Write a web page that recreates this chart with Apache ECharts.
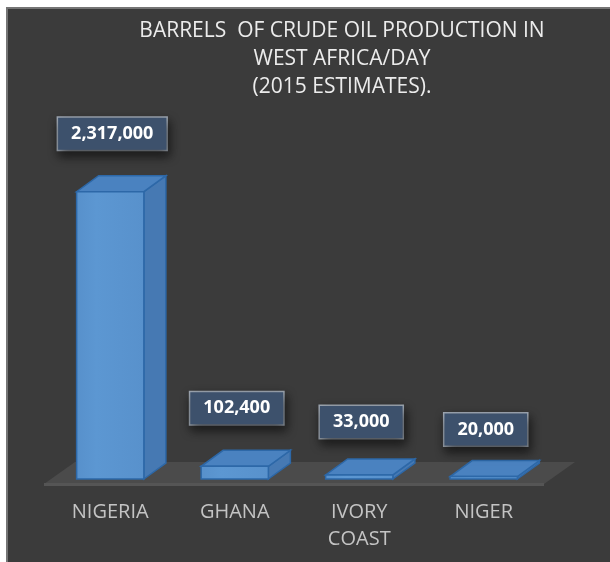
<!DOCTYPE html>
<html>
<head>
<meta charset="utf-8">
<script src="https://cdn.jsdelivr.net/npm/echarts@6/dist/echarts.min.js"></script>
<style>
  html, body { margin: 0; padding: 0; background: #fff; }
  #chart { width: 610px; height: 562px; }
</style>
</head>
<body>
<div id="chart"></div>
<script>
// crude oil output, barrels per day (2015 estimates)
const countries = ['NIGERIA', 'GHANA', 'IVORY\nCOAST', 'NIGER'];
const barrelsPerDay = [2317000, 102400, 33000, 20000];

// how far each value box floats above its bar (perspective in the original)
const labelGap = [42, 42, 37, 31];

const fmt = v => Number(v).toLocaleString('en-US');

// excel-ish 3d box: front, side and top faces
function renderBar(params, api) {
  const base = api.coord([api.value(0), 0]);
  const top = api.coord([api.value(0), api.value(1)]);
  const bw = api.size([1, 0])[0] * 0.54;
  const x0 = base[0] - bw / 2, x1 = base[0] + bw / 2;
  const yb = base[1], yt = Math.min(top[1], yb - 2);
  const dx = 22, dy = -16;
  const edge = '#2d68a8';
  return {
    type: 'group',
    children: [
      {
        type: 'polygon',
        shape: { points: [[x1, yb], [x1 + dx, yb + dy], [x1 + dx, yt + dy], [x1, yt]] },
        style: { fill: '#4679b3', stroke: edge, lineWidth: 1.5 }
      },
      {
        type: 'polygon',
        shape: { points: [[x0, yt], [x1, yt], [x1 + dx, yt + dy], [x0 + dx, yt + dy]] },
        style: { fill: '#4a82c0', stroke: edge, lineWidth: 1.5 }
      },
      {
        type: 'rect',
        shape: { x: x0, y: yt, width: bw, height: yb - yt },
        style: {
          fill: new echarts.graphic.LinearGradient(0, 0, 1, 0, [
            { offset: 0, color: '#5790cb' },
            { offset: 0.3, color: '#5c97d2' },
            { offset: 1, color: '#5891cc' }
          ]),
          stroke: edge, lineWidth: 1.5
        }
      },
      {
        type: 'text',
        x: base[0] + 2,
        y: yt - labelGap[params.dataIndex],
        z2: 10,
        style: {
          text: fmt(api.value(1)),
          fill: '#ffffff',
          font: 'bold 18px "Open Sans"',
          align: 'center',
          verticalAlign: 'bottom',
          backgroundColor: '#3d516c',
          borderColor: '#9ea7b2',
          borderWidth: 1.5,
          padding: [7, 13],
          shadowBlur: 10,
          shadowColor: 'rgba(0,0,0,0.55)',
          shadowOffsetX: 2,
          shadowOffsetY: 5
        }
      }
    ]
  };
}

// floor slab under the bars
function renderFloor(params, api) {
  const cs = params.coordSys;
  const yb = cs.y + cs.height + 5;
  const l = cs.x - 4, r = cs.x + cs.width - 2;
  return {
    type: 'group',
    children: [
      {
        type: 'polygon',
        shape: { points: [[l, yb], [r, yb], [r + 31, yb - 22], [l + 31, yb - 22]] },
        style: { fill: '#4b4b4b' }
      },
      {
        type: 'rect',
        shape: { x: l, y: yb - 1, width: r - l, height: 3 },
        style: { fill: '#555555' }
      }
    ]
  };
}

const chart = echarts.init(document.getElementById('chart'));
chart.setOption({
  backgroundColor: '#ffffff',
  animation: false,
  graphic: [{
    type: 'rect',
    z: -10,
    shape: { x: 7, y: 8, width: 610, height: 560 },
    style: { fill: '#3b3b3b', stroke: '#757575', lineWidth: 2 }
  }],
  title: {
    text: 'BARRELS  OF CRUDE OIL PRODUCTION IN\nWEST AFRICA/DAY\n(2015 ESTIMATES).',
    left: 337,
    top: 12,
    textAlign: 'center',
    textStyle: {
      color: '#ececec',
      fontFamily: 'Open Sans',
      fontWeight: 'normal',
      fontSize: 21,
      lineHeight: 28
    }
  },
  grid: { left: 48, right: 64, top: 107, bottom: 83 },
  xAxis: {
    type: 'category',
    data: countries,
    axisLine: { show: false },
    axisTick: { show: false },
    axisLabel: {
      color: '#c4c4c4',
      fontFamily: 'Open Sans',
      fontSize: 20,
      lineHeight: 27,
      margin: 20
    }
  },
  yAxis: {
    type: 'value',
    min: 0,
    max: 3000000,
    show: false,
    splitLine: { show: false }
  },
  series: [
    {
      type: 'custom',
      renderItem: renderFloor,
      data: [[0]],
      z: 1,
      silent: true
    },
    {
      type: 'custom',
      renderItem: renderBar,
      data: barrelsPerDay.map((v, i) => [i, v]),
      encode: { x: 0, y: 1 },
      z: 2
    }
  ]
});
</script>
</body>
</html>
